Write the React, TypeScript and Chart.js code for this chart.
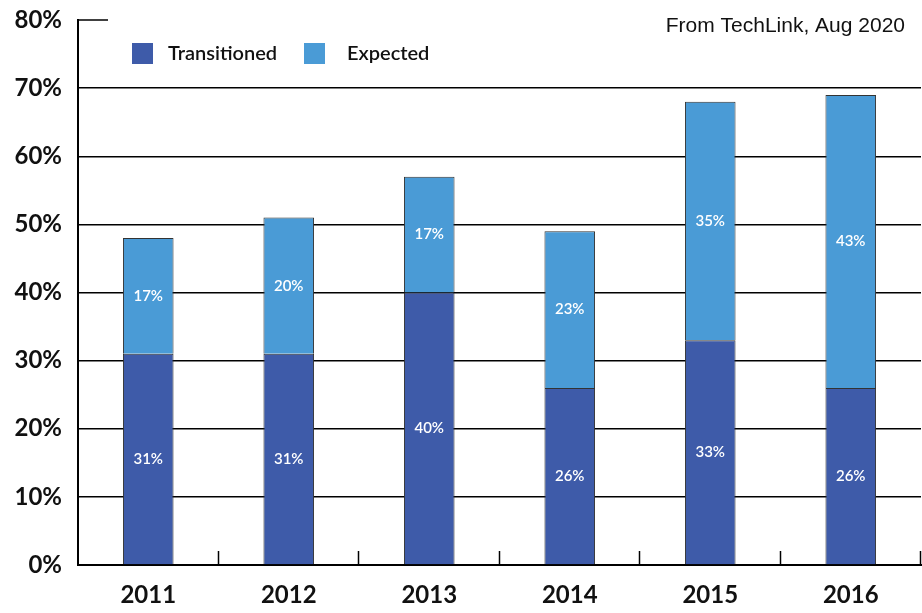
import { useEffect, useRef } from "react";
import { Chart, registerables } from "chart.js";

Chart.register(...registerables);

const categories = ["2011", "2012", "2013", "2014", "2015", "2016"];
const transitioned = [31, 31, 40, 26, 33, 26];
const expected = [17, 20, 17, 23, 35, 43];
const yTicks = [0, 10, 20, 30, 40, 50, 60, 70, 80];
const seriesNames = ["Transitioned", "Expected"];
const seriesColors = ["#3E5BA9", "#4A9BD6"];
const sourceNote = "From TechLink, Aug 2020";

const FONT = "Lato, 'Open Sans', sans-serif";

const overlayPlugin = {
  id: "overlay",
  afterDatasetsDraw(chart: any) {
    const ctx = chart.ctx;
    ctx.save();
    ctx.fillStyle = "#ffffff";
    ctx.font = `600 15px ${FONT}`;
    ctx.textAlign = "center";
    ctx.textBaseline = "middle";
    chart.data.datasets.forEach((ds: any, di: number) => {
      const meta = chart.getDatasetMeta(di);
      meta.data.forEach((el: any, i: number) => {
        const v = ds.data[i];
        const y = (el.y + el.base) / 2;
        ctx.fillText(`${v}%`, el.x, y);
      });
    });
    ctx.restore();
  },
  afterDraw(chart: any) {
    const ctx = chart.ctx;
    const area = chart.chartArea;
    const xs = chart.scales.x;
    const ys = chart.scales.y;
    ctx.save();
    // x boundary tick marks pointing up
    const step = xs.getPixelForValue(1) - xs.getPixelForValue(0);
    ctx.strokeStyle = "#000";
    ctx.lineWidth = 1.5;
    for (let i = 0; i < categories.length; i++) {
      const x = Math.round(xs.getPixelForValue(i) + step / 2) - 0.5;
      ctx.beginPath();
      ctx.moveTo(x, area.bottom);
      ctx.lineTo(x, area.bottom - 14);
      ctx.stroke();
    }
    // short stub at top gridline
    const yTop = ys.getPixelForValue(yTicks[yTicks.length - 1]);
    ctx.beginPath();
    ctx.moveTo(area.left, yTop);
    ctx.lineTo(area.left + 30, yTop);
    ctx.stroke();
    // legend
    const legendX = [132, 304];
    const textX = [168, 347];
    ctx.font = `600 20px ${FONT}`;
    ctx.textAlign = "left";
    ctx.textBaseline = "middle";
    seriesNames.forEach((name, i) => {
      ctx.fillStyle = seriesColors[i];
      ctx.fillRect(legendX[i], 43, 21, 21);
      ctx.fillStyle = "#111";
      ctx.fillText(name, textX[i], 54);
    });
    // source note
    ctx.font = `21px "Liberation Sans", Arial, sans-serif`;
    ctx.textAlign = "right";
    ctx.fillStyle = "#111";
    ctx.fillText(sourceNote, 905, 26);
    ctx.restore();
  },
};

export default function App() {
  const ref = useRef<HTMLCanvasElement | null>(null);
  useEffect(() => {
    if (!ref.current) return;
    const chart = new Chart(ref.current, {
      type: "bar",
      data: {
        labels: categories,
        datasets: [
          {
            label: seriesNames[0],
            data: transitioned,
            backgroundColor: seriesColors[0],
            borderColor: "#333",
            borderWidth: 1,
            categoryPercentage: 1,
            barPercentage: 0.36,
          },
          {
            label: seriesNames[1],
            data: expected,
            backgroundColor: seriesColors[1],
            borderColor: "#333",
            borderWidth: 1,
            categoryPercentage: 1,
            barPercentage: 0.36,
          },
        ],
      },
      options: {
        animation: false,
        responsive: true,
        maintainAspectRatio: false,
        layout: { autoPadding: false, padding: { top: 20, right: 1, left: 0, bottom: 0 } },
        plugins: {
          legend: { display: false },
          tooltip: { enabled: false },
        },
        scales: {
          x: {
            stacked: true,
            grid: { display: false, drawTicks: false },
            border: { display: true, color: "#000", width: 2 },
            ticks: {
              color: "#111",
              font: { family: FONT, size: 24, weight: "bold" },
              padding: 16,
            },
            afterFit(scale: any) {
              scale.height = 48;
              scale.paddingLeft = 0;
              scale.paddingRight = 0;
            },
          },
          y: {
            stacked: true,
            min: 0,
            max: 80,
            afterBuildTicks(scale: any) {
              scale.ticks = yTicks.map((v) => ({ value: v }));
            },
            grid: {
              drawTicks: false,
              lineWidth: 1.5,
              color: (c: any) =>
                c.tick && (c.tick.value === 80 || c.tick.value === 0)
                  ? "rgba(0,0,0,0)"
                  : "#000",
            },
            border: { display: true, color: "#000", width: 2 },
            ticks: {
              color: "#111",
              font: { family: FONT, size: 24, weight: "bold" },
              padding: 16,
              callback: (v: any) => `${v}%`,
            },
            afterFit(scale: any) {
              scale.width = 78;
              scale.paddingTop = 0;
              scale.paddingBottom = 0;
            },
          },
        },
      },
      plugins: [overlayPlugin],
    });
    return () => chart.destroy();
  }, []);
  return (
    <div
      style={{
        position: "absolute",
        left: 0,
        top: 0,
        width: 922,
        height: 613,
        background: "#fff",
      }}
    >
      <canvas ref={ref} />
    </div>
  );
}
